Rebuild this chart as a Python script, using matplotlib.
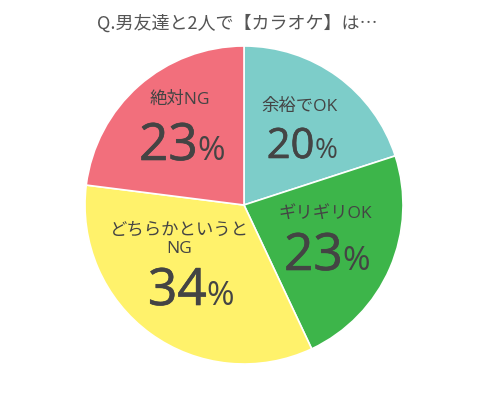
import matplotlib
matplotlib.use("Agg")
import matplotlib.pyplot as plt
import matplotlib.patheffects as pe

plt.rcParams['font.family'] = ['Open Sans', 'Noto Sans CJK JP', 'DejaVu Sans']

# データ
title = "Q.男友達と2人で【カラオケ】は…"
labels = ["余裕でOK", "ギリギリOK", "どちらかというと\nNG", "絶対NG"]
values = [20, 23, 34, 23]
colors = ["#7dcdc9", "#3db54a", "#fff26b", "#f26f7c"]

# 文字の配置 (画像のピクセル座標, 上が0)
label_xy = [(299, 107), (325, 214), (179, 240), (180, 100)]
pct_xy = [(302, 158), (327, 270), (191, 305), (182, 160)]
num_size = [30, 37, 37, 37]
sign_size = [20, 24, 24, 24]
text_col = "#444444"

W, H = 487, 405
fig = plt.figure(figsize=(W / 100, H / 100), dpi=100)
ax = fig.add_axes([0, 0, 1, 1])

cx, cy, R = 244, H - 205, 159
wedges, _ = ax.pie(values, colors=colors, startangle=90, counterclock=False,
                   radius=R, center=(cx, cy), frame=True,
                   wedgeprops=dict(edgecolor="white", linewidth=1.2))
ax.set_xlim(0, W)
ax.set_ylim(0, H)
ax.set_aspect("equal")
ax.axis("off")

# 数字を少し太く見せる
thick = [pe.Stroke(linewidth=0.45, foreground=text_col), pe.Normal()]

renderer = fig.canvas.get_renderer()
for lab, v, (lx, ly), (px, py), ns, ss in zip(labels, values, label_xy, pct_xy,
                                              num_size, sign_size):
    ax.text(lx, H - ly, lab, ha="center", va="center",
            fontsize=12.5, color=text_col, linespacing=1.15)
    t1 = ax.text(px, H - py, str(v), ha="left", va="baseline",
                 fontsize=ns, color=text_col, path_effects=thick)
    t2 = ax.text(px, H - py, "%", ha="left", va="baseline",
                 fontsize=ss, color=text_col)
    w1 = t1.get_window_extent(renderer).width
    w2 = t2.get_window_extent(renderer).width
    x0 = px - (w1 + w2) / 2
    t1.set_x(x0)
    t2.set_x(x0 + w1)

ax.text(237, H - 24, title, ha="center", va="center", fontsize=13,
        color="#555555", family=["Noto Sans CJK JP", "DejaVu Sans"])

fig.savefig("out.png", dpi=100)
